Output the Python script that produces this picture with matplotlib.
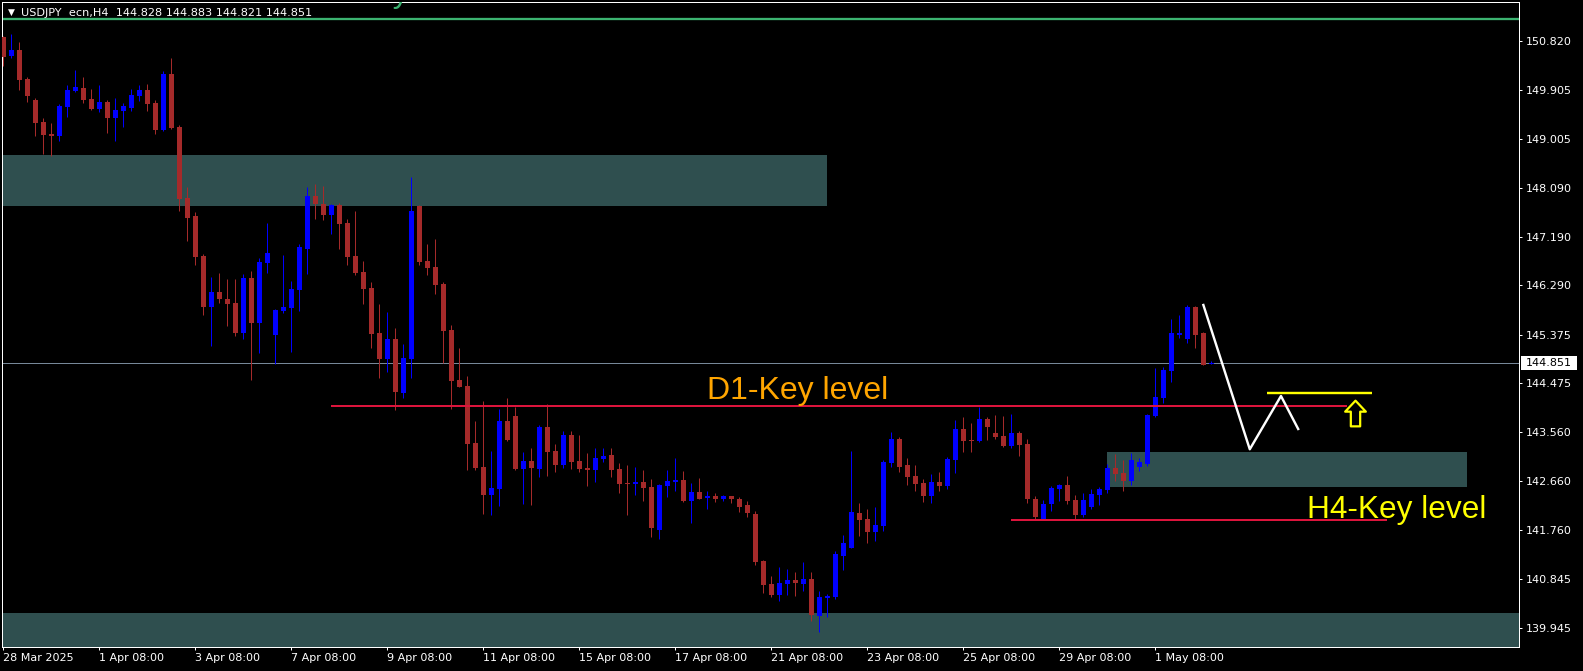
import matplotlib
matplotlib.use('Agg')
import matplotlib.pyplot as plt
import numpy as np
from matplotlib.patches import Rectangle
from matplotlib.path import Path

# ---------------- data ----------------
symbol_header = "USDJPY  ecn,H4  144.828 144.883 144.821 144.851"

opens = [150.892, 150.540, 150.646, 150.109, 149.720, 149.312, 149.090, 149.058, 149.590, 149.886,
         149.942, 149.738, 149.553, 149.682, 149.386, 149.516, 149.571, 149.794, 149.905, 149.664,
         149.164, 150.201, 149.219, 147.904, 147.571, 146.830, 145.885, 146.163, 146.033, 145.959,
         145.403, 146.422, 145.588, 146.700, 145.366, 145.811, 145.872, 146.205, 146.959, 147.941,
         147.793, 147.589, 147.774, 147.441, 146.830, 146.533, 146.237, 145.403, 144.922, 145.292,
         144.297, 144.922, 147.756, 146.737, 146.626, 146.311, 145.459, 144.533, 144.421, 143.365,
         142.921, 142.408, 142.519, 143.773, 143.866, 142.889, 143.032, 142.889, 143.662, 143.217,
         142.963, 143.514, 143.032, 142.902, 142.871, 143.075, 143.143, 142.889, 142.630, 142.612,
         142.649, 142.550, 141.759, 142.574, 142.649, 142.686, 142.297, 142.463, 142.352, 142.389,
         142.334, 142.384, 142.334, 142.217, 142.050, 141.179, 140.753, 140.555, 140.759, 140.828,
         140.759, 140.846, 140.166, 140.500, 140.513, 141.278, 141.426, 142.069, 141.958, 141.717,
         141.833, 143.000, 143.440, 142.958, 142.754, 142.624, 142.389, 142.643, 142.574, 143.056,
         143.625, 143.421, 143.408, 143.810, 143.551, 143.501, 143.315, 143.551, 143.347, 142.328,
         141.963, 142.241, 142.519, 142.587, 142.310, 142.037, 142.185, 142.408, 142.500, 142.902,
         142.810, 142.667, 142.915, 142.982, 143.871, 144.205, 144.705, 145.372, 145.292, 145.885,
         145.403, 144.828]
highs = [150.905, 150.942, 150.794, 150.146, 149.757, 149.386, 149.288, 149.645, 149.997, 150.275,
         150.146, 149.923, 149.997, 149.720, 149.757, 149.664, 149.923, 149.997, 150.016, 149.720,
         150.257, 150.498, 149.256, 148.108, 147.645, 146.867, 146.441, 146.515, 146.404, 146.404,
         146.496, 146.552, 146.793, 147.441, 145.848, 146.848, 146.367, 147.052, 148.108, 148.163,
         148.126, 147.793, 147.811, 147.515, 147.663, 146.737, 146.348, 145.940, 145.792, 145.496,
         145.199, 148.299, 147.774, 147.052, 147.145, 146.348, 145.551, 145.125, 144.607, 143.779,
         144.143, 143.217, 143.995, 144.199, 144.038, 143.199, 143.273, 143.699, 144.094, 143.347,
         143.588, 143.588, 143.514, 143.180, 143.273, 143.273, 143.273, 142.995, 142.963, 142.926,
         142.871, 142.699, 142.606, 142.871, 143.093, 142.852, 142.630, 142.723, 142.482, 142.445,
         142.408, 142.389, 142.371, 142.297, 142.111, 141.198, 140.902, 141.068, 141.031, 140.976,
         141.167, 140.976, 140.629, 140.574, 141.370, 141.661, 143.223, 142.254, 142.143, 142.180,
         143.051, 143.569, 143.477, 143.088, 142.958, 142.699, 142.791, 142.828, 143.106, 143.792,
         143.847, 143.736, 144.032, 143.847, 143.884, 143.866, 143.903, 143.588, 143.440, 142.384,
         142.310, 142.569, 142.606, 142.754, 142.402, 142.439, 142.513, 142.550, 142.976, 143.162,
         143.051, 143.180, 143.088, 143.903, 144.755, 144.773, 145.663, 145.737, 145.922, 145.903,
         145.422, 144.883]
lows = [150.355, 150.503, 149.905, 149.688, 149.053, 148.719, 148.688, 148.966, 149.410, 149.868,
        149.664, 149.534, 149.503, 149.114, 148.966, 149.225, 149.516, 149.707, 149.516, 149.090,
        149.145, 149.182, 147.663, 147.108, 146.663, 145.737, 145.162, 145.959, 145.533, 145.348,
        145.292, 144.533, 145.033, 146.515, 144.829, 145.774, 145.051, 145.811, 146.496, 147.515,
        147.497, 147.237, 146.959, 146.663, 146.478, 145.940, 145.125, 144.575, 144.686, 143.982,
        144.205, 144.575, 146.663, 146.483, 146.131, 144.853, 144.001, 144.403, 142.871, 142.871,
        142.056, 142.037, 142.204, 143.403, 142.871, 142.241, 142.222, 142.741, 142.760, 142.834,
        142.908, 142.889, 142.834, 142.574, 142.649, 143.019, 142.741, 142.445, 142.037, 142.408,
        142.297, 141.630, 141.587, 142.371, 142.482, 142.267, 141.889, 142.320, 142.148, 142.278,
        142.297, 142.259, 142.093, 142.000, 141.105, 140.592, 140.518, 140.444, 140.555, 140.537,
        140.629, 140.074, 139.870, 140.148, 140.481, 141.013, 141.426, 141.648, 141.518, 141.555,
        141.741, 142.926, 142.834, 142.593, 142.482, 142.278, 142.259, 142.482, 142.519, 142.815,
        143.204, 143.204, 143.390, 143.427, 143.445, 143.297, 143.278, 143.130, 142.259, 141.963,
        141.950, 142.111, 142.297, 142.241, 141.963, 142.000, 142.148, 142.217, 142.445, 142.667,
        142.482, 142.593, 142.852, 142.945, 143.853, 144.112, 144.501, 145.316, 145.224, 145.131,
        144.810, 144.821]
closes = [150.522, 150.646, 150.090, 149.799, 149.299, 149.077, 149.058, 149.608, 149.905, 149.960,
          149.720, 149.553, 149.682, 149.386, 149.534, 149.608, 149.812, 149.905, 149.645, 149.164,
          150.201, 149.201, 147.886, 147.534, 146.811, 145.885, 146.163, 146.033, 145.940, 145.403,
          146.422, 145.588, 146.718, 146.885, 145.829, 145.885, 146.218, 146.996, 147.941, 147.793,
          147.589, 147.774, 147.422, 146.811, 146.515, 146.218, 145.385, 144.922, 145.292, 144.316,
          144.940, 147.663, 146.724, 146.613, 146.298, 145.446, 144.520, 144.408, 143.353, 142.908,
          142.408, 142.532, 143.773, 143.421, 142.889, 143.032, 142.908, 143.662, 143.204, 142.963,
          143.514, 143.019, 142.889, 142.871, 143.088, 143.130, 142.871, 142.612, 142.606, 142.649,
          142.537, 141.796, 142.587, 142.667, 142.686, 142.285, 142.463, 142.334, 142.389, 142.334,
          142.389, 142.319, 142.185, 142.074, 141.167, 140.740, 140.555, 140.772, 140.828, 140.778,
          140.846, 140.179, 140.513, 140.531, 141.315, 141.513, 142.087, 141.939, 141.717, 141.846,
          143.013, 143.440, 142.926, 142.741, 142.612, 142.389, 142.643, 142.574, 143.069, 143.625,
          143.408, 143.403, 143.810, 143.667, 143.482, 143.315, 143.551, 143.328, 142.334, 142.000,
          142.235, 142.532, 142.587, 142.297, 142.037, 142.310, 142.421, 142.513, 142.902, 142.797,
          142.667, 143.051, 143.019, 143.884, 144.218, 144.718, 145.403, 145.403, 145.885, 145.372,
          144.816, 144.851]

last_price = 144.851
y_ticks = [150.820, 149.905, 149.005, 148.090, 147.190, 146.290, 145.375,
           144.475, 143.560, 142.660, 141.760, 140.845, 139.945]
x_tick_bars = [0, 12, 24, 36, 48, 60, 72, 84, 96, 108, 120, 132, 144]
x_tick_labels = ["28 Mar 2025", "1 Apr 08:00", "3 Apr 08:00", "7 Apr 08:00", "9 Apr 08:00",
                 "11 Apr 08:00", "15 Apr 08:00", "17 Apr 08:00", "21 Apr 08:00", "23 Apr 08:00",
                 "25 Apr 08:00", "29 Apr 08:00", "1 May 08:00"]

# analysis objects (bar index anchors, prices)
top_zone = dict(x0=-5, x1=103, lo=147.756, hi=148.701)
bottom_zone = dict(x0=-5, x1=200, lo=139.0, hi=140.222)
h4_zone = dict(x0=138, x1=183, lo=142.550, hi=143.199)
d1_level = dict(x0=41, x1=168, price=144.045)
h4_level = dict(x0=126, x1=173, price=141.945)
green_level = 151.22
path_bars = [150.0, 155.8, 159.7, 161.85]
path_prices = [145.922, 143.249, 144.236, 143.625]
target_line = dict(x0=157.9, x1=171.1, price=144.286)
arrow_pos = (169.0, 143.930)

# ---------------- figure ----------------
W, H = 1583, 671
fig = plt.figure(figsize=(W / 100, H / 100), dpi=100, facecolor='black')
ax = fig.add_axes([2 / W, 24 / H, 1517 / W, 645 / H])
ax.set_facecolor('black')
ax.set_xlim(-0.16, 189.45)
ax.set_ylim(139.586, 151.535)

PX = 0.72  # one pixel in points
RED = '#A52A2A'
BLUE = '#0000FF'
ZONE = '#2F4F4F'

for z in (top_zone, bottom_zone, h4_zone):
    ax.add_patch(Rectangle((z['x0'], z['lo']), z['x1'] - z['x0'], z['hi'] - z['lo'],
                           facecolor=ZONE, edgecolor='none', zorder=1))

ax.axhline(last_price, color='#778899', lw=PX, zorder=2)
ax.axhline(green_level, color='#3CB371', lw=2.3 * PX, zorder=2)

o = np.array(opens); h = np.array(highs); l = np.array(lows); c = np.array(closes)
xs = np.arange(len(o))
cols = np.where(c >= o, BLUE, RED)
ax.vlines(xs, l, h, colors=cols, lw=PX, zorder=3)
bottoms = np.minimum(o, c)
heights = np.maximum(np.abs(c - o), 0.02)
ax.bar(xs, heights, bottom=bottoms, width=0.62, color=cols, linewidth=0, zorder=3)

for lv in (d1_level, h4_level):
    ax.plot([lv['x0'], lv['x1']], [lv['price'], lv['price']], color='#DC143C', lw=2 * PX,
            zorder=4, solid_capstyle='butt')

ax.plot(path_bars, path_prices, color='white', lw=2.4 * PX, zorder=5)
ax.plot([target_line['x0'], target_line['x1']], [target_line['price']] * 2, color='#FFFF00',
        lw=2.4 * PX, zorder=5, solid_capstyle='butt')

arrow = Path([(0, 38.5), (31, 5.5), (14, 5.5), (14, -38.5), (-14, -38.5), (-14, 5.5), (-31, 5.5), (0, 38.5)],
             [Path.MOVETO] + [Path.LINETO] * 6 + [Path.CLOSEPOLY])
ax.plot([arrow_pos[0]], [arrow_pos[1]], marker=arrow, markersize=18.5, mfc='black',
        mec='#FFFF00', mew=1.6, zorder=6)

ax.text(88.0, 144.175, 'D1-Key level', color='#FFA500', fontsize=23,
        family='Liberation Sans', va='baseline', ha='left', zorder=6)
ax.text(163.0, 141.97, 'H4-Key level', color='#FFFF00', fontsize=22.8,
        family='Liberation Sans', va='baseline', ha='left', zorder=6)
ax.text(36.5, 151.535, 'W1-Key level', color='#3CB371', fontsize=23,
        family='Liberation Sans', va='baseline', ha='left', zorder=6, clip_on=True)

# axes styling
for sp in ax.spines.values():
    sp.set_color('white')
    sp.set_linewidth(PX)
ax.yaxis.tick_right()
ax.set_yticks(y_ticks)
ax.set_yticklabels([f'{v:.3f}' for v in y_ticks])
ax.tick_params(axis='y', colors='white', labelsize=8, length=3 * PX, width=PX, pad=2.8)
ax.set_xticks(x_tick_bars)
ax.set_xticklabels(x_tick_labels)
ax.tick_params(axis='x', colors='white', labelsize=8, length=3 * PX, width=PX, pad=2.5)
for lbl in ax.get_xticklabels():
    lbl.set_ha('left')

# current price tag
fig.canvas.draw()
ypix = ax.transData.transform((0, last_price))[1]
fig.patches.append(Rectangle((1521, ypix - 7), 56, 14, transform=None, facecolor='white',
                             edgecolor='none', zorder=10))
fig.text(1526 / W, ypix / H, f'{last_price:.3f}', color='black', fontsize=8, va='center',
         ha='left', zorder=11)

# header
fig.text(11 / W, 1 - 12.7 / H, '\u25BC', color='white', fontsize=6.5, ha='center', va='center')
fig.text(21 / W, 1 - 12.7 / H, symbol_header, color='white', fontsize=8.1, va='center', ha='left')

fig.savefig('out.png', dpi=100, facecolor='black')
